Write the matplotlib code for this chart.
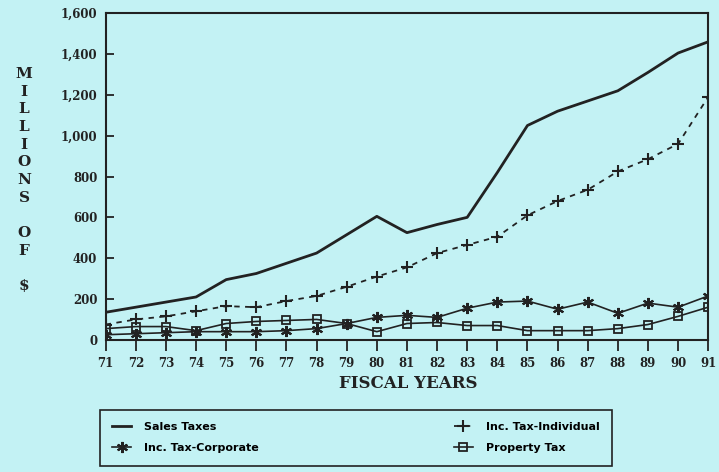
import numpy as np
import matplotlib.pyplot as plt
from matplotlib.ticker import FuncFormatter

years = np.arange(71, 92)
year_labels = [str(y) for y in years]

sales = [135, 160, 185, 210, 295, 325, 375, 425, 515, 605, 525, 565, 600, 820, 1050,
         1120, 1170, 1220, 1310, 1405, 1460]
individual = [75, 100, 115, 140, 165, 160, 190, 215, 260, 310, 355, 425, 465, 505, 610,
              680, 735, 825, 885, 960, 1190]
corporate = [25, 30, 35, 40, 40, 40, 45, 55, 80, 110, 120, 110, 155, 185, 190,
             150, 185, 130, 180, 160, 215]
prop = [55, 65, 65, 45, 80, 90, 95, 100, 80, 40, 80, 85, 70, 70, 45,
        45, 45, 55, 75, 115, 160]

bg = '#c3f2f4'
ink = '#222222'
serif = 'DejaVu Serif'

fig = plt.figure(figsize=(7.19, 4.72), dpi=100, facecolor=bg)
ax = fig.add_axes([0.147, 0.280, 0.838, 0.692], facecolor=bg)

l1, = ax.plot(years, sales, color=ink, lw=2.0, label='Sales Taxes')
l2, = ax.plot(years, individual, color=ink, lw=1.3, ls=(0, (3, 3)), marker='+',
              ms=9, mew=1.5, label='Inc. Tax-Individual')
l3, = ax.plot(years, corporate, color=ink, lw=1.2, marker=(6, 2, 0), ms=8, mew=1.5,
              label='Inc. Tax-Corporate')
l4, = ax.plot(years, prop, color=ink, lw=1.2, marker='s', ms=6, mfc='none', mew=1.3,
              label='Property Tax')

ax.set_xlim(71, 91)
ax.set_ylim(0, 1600)
ax.set_xticks(years)
ax.set_xticklabels(year_labels)
ax.set_yticks(np.arange(0, 1601, 200))
ax.yaxis.set_major_formatter(FuncFormatter(lambda v, p: f'{int(v):,}'))
ax.tick_params(axis='x', direction='out', length=8, width=1.3, colors=ink, pad=4)
ax.tick_params(axis='y', direction='in', length=6, width=1.3, colors=ink, pad=6)
for lab in ax.get_xticklabels() + ax.get_yticklabels():
    lab.set_fontfamily(serif)
    lab.set_fontweight('bold')
    lab.set_fontsize(8.5)
for s in ax.spines.values():
    s.set_color(ink)
    s.set_linewidth(1.5)

fig.text(408 / 719, 1 - 383 / 472, 'FISCAL YEARS', ha='center', va='center',
         fontfamily=serif, fontweight='bold', fontsize=12, color=ink)
fig.text(24 / 719, 1 - 180 / 472, 'M\nI\nL\nL\nI\nO\nN\nS\n\nO\nF\n\n$', ha='center',
         va='center', fontfamily=serif, fontweight='bold', fontsize=11,
         linespacing=1.33, color=ink)

leg = fig.legend([l1, l3, l2, l4],
                 ['Sales Taxes', 'Inc. Tax-Corporate', 'Inc. Tax-Individual', 'Property Tax'],
                 ncol=2, loc='upper left', mode='expand',
                 bbox_to_anchor=(100 / 719, 1 - 466 / 472, 512 / 719, 56 / 472),
                 frameon=True, fancybox=False, edgecolor=ink, facecolor=bg,
                 framealpha=1, handlelength=1.7, handletextpad=1.2, borderaxespad=0,
                 columnspacing=4, borderpad=1.1, labelspacing=1.0,
                 prop={'family': 'DejaVu Sans', 'weight': 'bold', 'size': 8})
leg.get_frame().set_linewidth(1.2)

fig.savefig('out.png', dpi=100, facecolor=bg)
